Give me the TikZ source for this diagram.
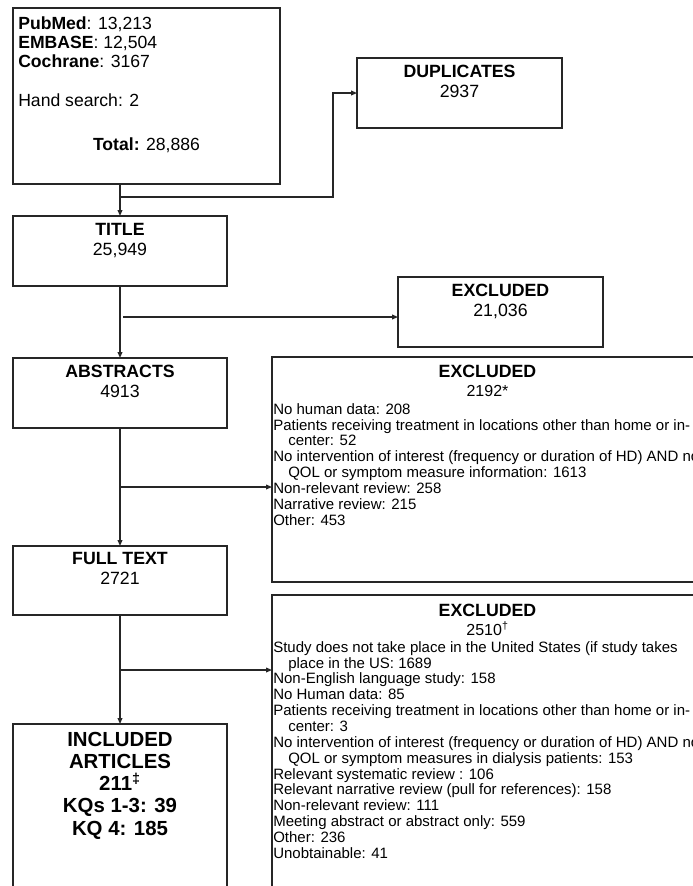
\documentclass[tikz,border=0pt]{standalone}
\usepackage{fontspec}
\setmainfont{Liberation Sans}
\usetikzlibrary{arrows.meta,calc}
\tikzset{
  box/.style={draw=black!85,line width=0.9pt,inner sep=0pt,outer sep=0pt,anchor=north west},
  hd/.style={font=\fontsize{13.3}{15}\selectfont\bfseries,anchor=mid},
  nm/.style={font=\fontsize{13.3}{15}\selectfont,anchor=mid},
  lst/.style={font=\fontsize{11.25}{11.9}\selectfont,align=left,inner sep=0pt,anchor=north west},
  ln/.style={draw=black!85,line width=0.9pt},
  arr/.style={ln,-{Triangle[length=4.5pt,width=3.6pt]}}
}
\begin{document}
\begin{tikzpicture}[x=0.75pt,y=-0.75pt]
\useasboundingbox (0,0) rectangle (693,886);
\clip (0,0) rectangle (693,886);
\fill[white] (0,0) rectangle (693,886);

\node[box,minimum width=200.25pt,minimum height=132pt] (src) at (13,8) {};
\node[box,minimum width=153.75pt,minimum height=52.5pt] (dup) at (357,58) {};
\node[box,minimum width=160.5pt,minimum height=52.5pt] (title) at (13,216) {};
\node[box,minimum width=153.75pt,minimum height=52.5pt] (exc1) at (398,277) {};
\node[box,minimum width=160.5pt,minimum height=52.5pt] (abs) at (13,358) {};
\node[box,minimum width=323.25pt,minimum height=168.75pt] (exc2) at (272,357) {};
\node[box,minimum width=160.5pt,minimum height=51.75pt] (full) at (13,546) {};
\node[box,minimum width=323.25pt,minimum height=240pt] (exc3) at (272,595) {};
\node[box,minimum width=160.5pt,minimum height=142.5pt] (inc) at (13,724) {};

\node[lst,font=\fontsize{13.2}{14.6}\selectfont] (srcl) at (18,16)
  {\textbf{PubMed}: 13,213\\ \textbf{EMBASE}: 12,504\\ \textbf{Cochrane}: 3167\\[14.6pt] Hand search: 2};
\node[nm,font=\fontsize{13.2}{14.6}\selectfont] (srct) at ($(src.north)+(0,139)$) {\textbf{Total:} 28,886};

\node[hd] (duph) at ($(dup.north)+(0,16)$) {DUPLICATES};
\node[nm] (dupn) at ($(dup.north)+(0,35.5)$) {2937};
\node[hd] (titleh) at ($(title.north)+(0,16)$) {TITLE};
\node[nm] (titlen) at ($(title.north)+(0,35.5)$) {25,949};
\node[hd] (exc1h) at ($(exc1.north)+(0,16)$) {EXCLUDED};
\node[nm] (exc1n) at ($(exc1.north)+(0,35.5)$) {21,036};
\node[hd] (absh) at ($(abs.north)+(0,16)$) {ABSTRACTS};
\node[nm] (absn) at ($(abs.north)+(0,35.5)$) {4913};
\node[hd] (fullh) at ($(full.north)+(0,15)$) {FULL TEXT};
\node[nm] (fulln) at ($(full.north)+(0,34.5)$) {2721};

\node[hd] (exc2h) at ($(exc2.north)+(0,16.5)$) {EXCLUDED};
\node[nm,font=\fontsize{12}{14}\selectfont] (exc2n) at ($(exc2.north)+(0,36)$) {2192*};
\node[lst] (exc2l) at (273,403)
  {No human data: 208\\
   Patients receiving treatment in locations other than home or in-\\
   \hspace*{1em}center: 52\\
   No intervention of interest (frequency or duration of HD) AND no\\
   \hspace*{1em}QOL or symptom measure information: 1613\\
   Non-relevant review: 258\\
   Narrative review: 215\\
   Other: 453};

\node[hd] (exc3h) at ($(exc3.north)+(0,17.5)$) {EXCLUDED};
\node[nm,font=\fontsize{12}{14}\selectfont] (exc3n) at ($(exc3.north)+(0,36.5)$) {2510\textsuperscript{†}};
\node[lst] (exc3l) at (273,641)
  {Study does not take place in the United States (if study takes\\
   \hspace*{1em}place in the US: 1689\\
   Non-English language study: 158\\
   No Human data: 85\\
   Patients receiving treatment in locations other than home or in-\\
   \hspace*{1em}center: 3\\
   No intervention of interest (frequency or duration of HD) AND no\\
   \hspace*{1em}QOL or symptom measures in dialysis patients: 153\\
   Relevant systematic review : 106\\
   Relevant narrative review (pull for references): 158\\
   Non-relevant review: 111\\
   Meeting abstract or abstract only: 559\\
   Other: 236\\
   Unobtainable: 41};

\node[font=\fontsize{15.3}{16.6}\selectfont\bfseries,align=center,inner sep=0pt,anchor=north] (incl)
  at ($(inc.north)+(0,8)$) {INCLUDED\\ARTICLES\\211\textsuperscript{‡}\\KQs 1-3: 39\\KQ 4: 185};

\coordinate (j1) at ($(title.north)+(0,-19)$);
\draw[ln] (src.south -| j1) -- (j1);
\draw[arr] (j1) -- (title.north);
\draw[arr] (j1) -| ($(dup.west)+(-24,0)$) -- (dup.west);
\draw[arr] (title.south) -- (abs.north);
\coordinate (b1) at ($(title.south)+(3,31)$);
\draw[arr] (b1) -- (b1 -| exc1.west);
\draw[arr] (abs.south) -- (full.north);
\coordinate (b2) at ($(abs.south)+(0,59)$);
\draw[arr] (b2) -- (b2 -| exc2.west);
\draw[arr] (full.south) -- (inc.north);
\coordinate (b3) at ($(full.south)+(0,55)$);
\draw[arr] (b3) -- (b3 -| exc3.west);
\end{tikzpicture}
\end{document}
